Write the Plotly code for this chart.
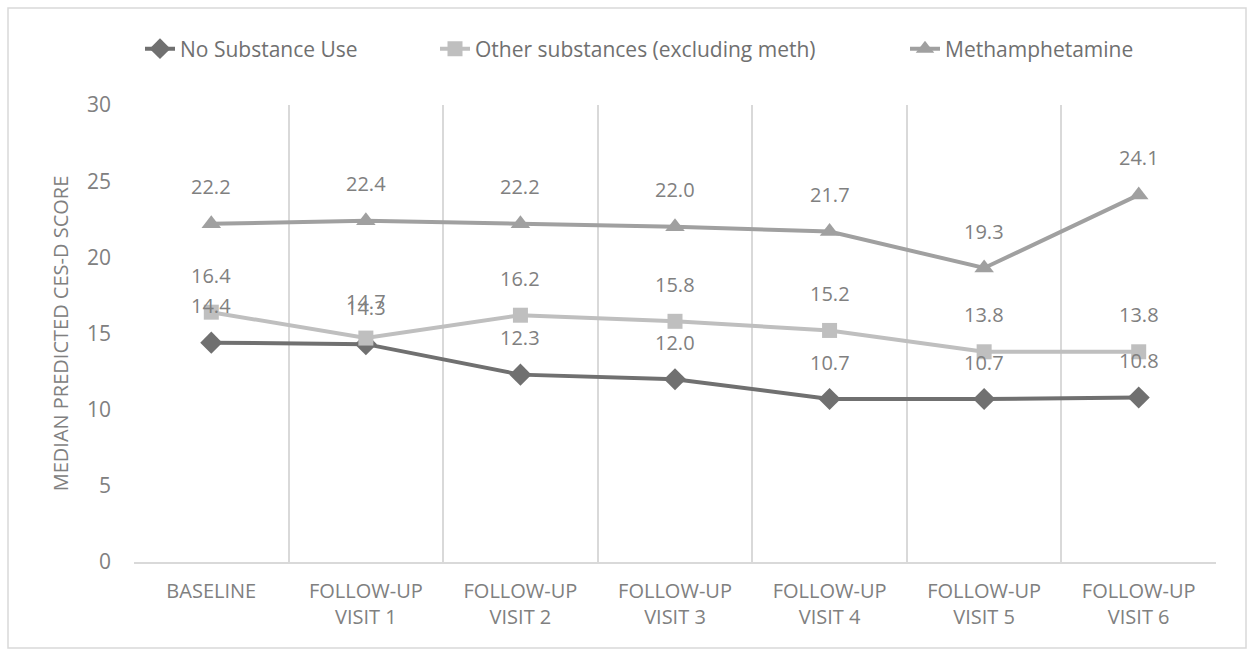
import plotly.graph_objects as go

categories = ["Baseline", "Follow-up<br>visit 1", "Follow-up<br>visit 2", "Follow-up<br>visit 3",
              "Follow-up<br>visit 4", "Follow-up<br>visit 5", "Follow-up<br>visit 6"]
no_substance = [14.4, 14.3, 12.3, 12.0, 10.7, 10.7, 10.8]
other_substances = [16.4, 14.7, 16.2, 15.8, 15.2, 13.8, 13.8]
methamphetamine = [22.2, 22.4, 22.2, 22.0, 21.7, 19.3, 24.1]

series = [
    ("No Substance Use", no_substance, "#707070", "diamond", 17, "legend"),
    ("Other substances (excluding meth)", other_substances, "#bfbfbf", "square", 15, "legend2"),
    ("Methamphetamine", methamphetamine, "#a0a0a0", "triangle-up", 17, "legend3"),
]

FONT = "Open Sans"
TXT = "#808080"
W, H = 1255, 650
L, R, T, B = 134, 39, 105, 88
PW, PH = W - L - R, H - T - B


def px(xp):
    return (xp - L) / PW


def py(yp):
    return (H - B - yp) / PH


fig = go.Figure()
annotations = []
for name, vals, color, sym, size, leg in series:
    fig.add_trace(go.Scatter(
        x=categories, y=vals, name=name, mode="lines+markers",
        line=dict(color=color, width=4),
        marker=dict(symbol=sym, size=size, color=color),
        legend=leg, showlegend=True,
    ))
    for c, v in zip(categories, vals):
        annotations.append(dict(x=c, y=v, text=f"{v:.1f}", showarrow=False,
                                yshift=37, font=dict(family=FONT, size=20, color=TXT)))

legfont = dict(family=FONT, size=21, color="#707070")


def leg(xpix):
    return dict(x=px(xpix), xanchor="left", y=py(49), yanchor="middle",
                font=dict(legfont), bgcolor="rgba(0,0,0,0)")


fig.update_layout(
    width=W, height=H, showlegend=True,
    margin=dict(l=L, r=R, t=T, b=B, autoexpand=False),
    paper_bgcolor="white", plot_bgcolor="white",
    font=dict(family=FONT, color=TXT),
    legend=leg(140), legend2=leg(435), legend3=leg(905),
    annotations=annotations,
    shapes=[dict(type="rect", xref="paper", yref="paper",
                 x0=px(8), x1=px(1246), y0=py(648), y1=py(8),
                 line=dict(color="#d9d9d9", width=1.5), layer="below")],
)
fig.update_xaxes(
    type="category", tickson="boundaries", range=[-0.5, 6.5], automargin=False,
    showgrid=True, gridcolor="#d9d9d9", gridwidth=1.5,
    showline=True, linecolor="#d9d9d9", linewidth=1.5,
    ticks="", tickfont=dict(family=FONT, size=20, color=TXT, textcase="upper"),
    ticklabelstandoff=10,
)
fig.update_yaxes(
    range=[0, 30], tickvals=[0, 5, 10, 15, 20, 25, 30], showgrid=False, zeroline=False,
    automargin=False,
    ticks="", tickfont=dict(family=FONT, size=21, color=TXT), ticklabelstandoff=22,
    title=dict(text="MEDIAN PREDICTED CES-D SCORE", font=dict(family=FONT, size=20, color=TXT),
               standoff=12),
)

fig.write_html("out.html", config={"displayModeBar": False},
               post_script="document.body.style.margin='0px';")
